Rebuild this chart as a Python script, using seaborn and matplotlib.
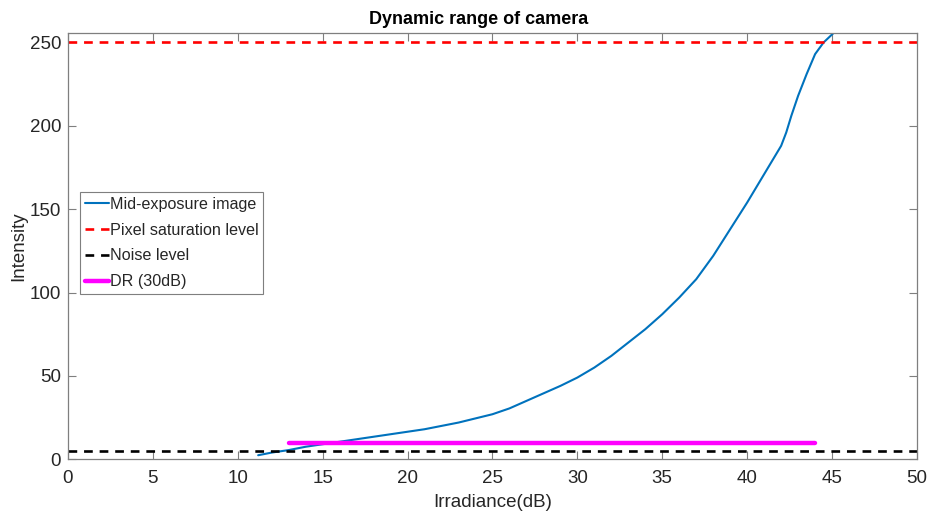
import matplotlib
matplotlib.use("Agg")
import matplotlib.pyplot as plt
import seaborn as sns
import pandas as pd

# Camera response curve (irradiance in dB vs. pixel intensity)
irradiance_db = [11.2, 12, 13, 14, 15, 16, 17, 18, 19, 20, 21, 22, 23, 24, 25,
                 26, 27, 28, 29, 30, 31, 32, 33, 34, 35, 36, 37, 38, 39, 40,
                 40.5, 41, 41.5, 42, 42.3, 42.6, 43, 43.5, 44, 44.5, 45.07]
intensity = [2.4, 4, 5.5, 7.5, 9, 10.5, 12, 13.5, 15, 16.5, 18, 20, 22, 24.5, 27,
             30.5, 35, 39.5, 44, 49, 55, 62, 70, 78, 87, 97, 108, 122, 138, 154,
             162.5, 171, 179.5, 188, 196, 206, 218, 231, 243, 250, 255.5]

saturation_level = 250
noise_level = 5
dr_start, dr_end, dr_level = 13, 44, 10

x_ticks = [0, 5, 10, 15, 20, 25, 30, 35, 40, 45, 50]
y_ticks = [0, 50, 100, 150, 200, 250]

sns.set_theme(style="white")
plt.rcParams["font.family"] = ["Liberation Sans", "DejaVu Sans"]

fig = plt.figure(figsize=(9.3, 5.16), dpi=100)
ax = fig.add_axes([0.0731, 0.110, 0.9129, 0.8255])

df = pd.DataFrame({"Irradiance(dB)": irradiance_db, "Intensity": intensity})
sns.lineplot(data=df, x="Irradiance(dB)", y="Intensity", ax=ax,
             color="#0072BD", linewidth=1.5, label="Mid-exposure image",
             sort=False)

dash = (0, (3.3, 2.6))
ax.axhline(saturation_level, color="#FF0000", linestyle=dash,
           linewidth=1.9, label="Pixel saturation level")
ax.axhline(noise_level, color="black", linestyle=dash,
           linewidth=1.9, label="Noise level")
dr_df = pd.DataFrame({"x": [dr_start, dr_end], "y": [dr_level, dr_level]})
sns.lineplot(data=dr_df, x="x", y="y", ax=ax, color="#FF00FF",
             linewidth=3.2, label="DR (30dB)")

ax.set_xlim(0, 50)
ax.set_ylim(0, 255.5)
ax.set_xticks(x_ticks)
ax.set_yticks(y_ticks)
ax.set_xlabel("Irradiance(dB)", fontsize=13.5, color="#262626", labelpad=5)
ax.set_ylabel("Intensity", fontsize=13.5, color="#262626", labelpad=2)
ax.set_title("Dynamic range of camera", fontsize=13, fontweight="bold",
             color="black", pad=7, x=0.484)

for side in ["left", "right", "top", "bottom"]:
    ax.spines[side].set_visible(True)
    ax.spines[side].set_color("#7f7f7f")
    ax.spines[side].set_linewidth(0.9)
ax.tick_params(axis="both", which="both", direction="in", length=6,
               width=0.8, color="#7f7f7f", labelsize=13.5, labelcolor="#262626",
               top=True, right=True, bottom=True, left=True)
ax.tick_params(axis="x", pad=8)
ax.tick_params(axis="y", pad=5)

leg = ax.legend(loc="upper left", bbox_to_anchor=(0.014, 0.628), fontsize=11.6,
                frameon=True, fancybox=False, framealpha=1, handlelength=1.5,
                handletextpad=0.05, borderpad=0.3, labelspacing=0.68,
                borderaxespad=0)
leg.get_frame().set_edgecolor("#7f7f7f")
leg.get_frame().set_linewidth(0.8)

fig.savefig("out.png", dpi=100)
